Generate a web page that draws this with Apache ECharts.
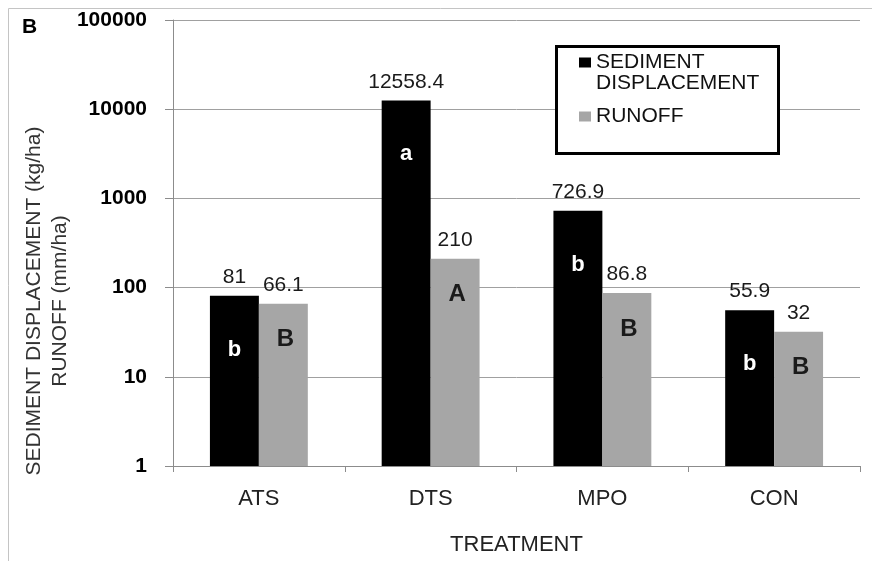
<!DOCTYPE html>
<html><head><meta charset="utf-8">
<script src="https://cdn.jsdelivr.net/npm/echarts@6/dist/echarts.min.js"></script>
<style>html,body{margin:0;padding:0;background:#fff}#c{width:872px;height:561px}</style>
</head><body><div id="c"></div>
<script>
const categories = ['ATS', 'DTS', 'MPO', 'CON'];
const seriesNames = ['SEDIMENT DISPLACEMENT', 'RUNOFF'];
const sedimentValues = [81, 12558.4, 726.9, 55.9];
const runoffValues = [66.1, 210, 86.8, 32];
const sedimentLetters = ['b', 'a', 'b', 'b'];
const runoffLetters = ['B', 'A', 'B', 'B'];
const yTicks = [1, 10, 100, 1000, 10000, 100000];
const panelLabel = 'B';
const xTitle = 'TREATMENT';
const yTitle = 'SEDIMENT DISPLACEMENT (kg/ha)\nRUNOFF (mm/ha)';

const FONT = '"Liberation Sans", Arial, sans-serif';
const chart = echarts.init(document.getElementById('c'), null, {renderer: 'canvas'});
const halfBar = 24.5;

const option = {
  animation: false,
  title: {text: panelLabel, left: 22, top: 17, padding: 0,
    textStyle: {fontFamily: FONT, fontSize: 21, fontWeight: 'bold', color: '#000'}},
  grid: {left: 173, right: 12, top: 20, bottom: 94},
  legend: {
    data: seriesNames, orient: 'vertical', left: 579, top: 31, padding: 0,
    itemWidth: 12, itemHeight: 10, itemGap: 12, icon: 'rect', z: 20,
    textStyle: {fontFamily: FONT, fontSize: 21, lineHeight: 21, color: '#111'},
    formatter: n => n === seriesNames[0] ? ' \nSEDIMENT\nDISPLACEMENT' : n
  },
  xAxis: {
    type: 'category', data: categories,
    name: xTitle, nameLocation: 'middle', nameGap: 68,
    nameTextStyle: {fontFamily: FONT, fontSize: 22, color: '#222'},
    axisLine: {lineStyle: {color: '#8c8c8c'}},
    axisTick: {show: true, length: 6, lineStyle: {color: '#8c8c8c'}},
    axisLabel: {fontFamily: FONT, fontSize: 22, color: '#222', margin: 22},
    splitLine: {show: false}
  },
  yAxis: {
    type: 'log', logBase: 10, min: yTicks[0], max: yTicks[yTicks.length - 1],
    axisLine: {show: true, lineStyle: {color: '#8c8c8c'}},
    axisTick: {show: true, length: 8, lineStyle: {color: '#8c8c8c'}},
    axisLabel: {fontFamily: FONT, fontSize: 21, fontWeight: 'bold', color: '#000', margin: 26,
      formatter: v => String(Math.round(v))},
    splitLine: {show: true, lineStyle: {color: '#a0a0a0', width: 1}}
  },
  graphic: [
    {type: 'rect', z: -10, silent: true, shape: {x: 8.5, y: 8.5, width: 900, height: 600},
      style: {fill: 'none', stroke: '#c4c4c4', lineWidth: 1}},
    {type: 'rect', z: 10, silent: true, shape: {x: 556.5, y: 46.5, width: 222, height: 107},
      style: {fill: '#fff', stroke: '#000', lineWidth: 3}},
    {type: 'text', z: 10, silent: true, x: 47, y: 301, rotation: Math.PI / 2,
      style: {text: yTitle, fontFamily: FONT, fontSize: 21, lineHeight: 26, fill: '#333',
        align: 'center', verticalAlign: 'middle'}}
  ],
  series: [
    {name: seriesNames[0], type: 'bar', data: sedimentValues, barGap: 0, barCategoryGap: '43%',
      itemStyle: {color: '#000'},
      label: {show: true, position: 'top', distance: 8, fontFamily: FONT, fontSize: 21, color: '#1a1a1a'}},
    {name: seriesNames[1], type: 'bar', data: runoffValues, barGap: 0, barCategoryGap: '43%',
      itemStyle: {color: '#a6a6a6'},
      label: {show: true, position: 'top', distance: 8, fontFamily: FONT, fontSize: 21, color: '#1a1a1a'}},
    {name: 'sedLetters', type: 'scatter', data: sedimentValues, symbol: 'circle', symbolSize: 2, z: 5,
      itemStyle: {color: 'rgba(0,0,0,0)'}, labelLayout: {hideOverlap: false},
      label: {show: true, position: [1 - halfBar, 1 + 54], align: 'center', verticalAlign: 'middle',
        formatter: p => sedimentLetters[p.dataIndex], opacity: 1,
        fontFamily: FONT, fontSize: 22, fontWeight: 'bold', color: '#ffffff'}},
    {name: 'runLetters', type: 'scatter', data: runoffValues, symbol: 'circle', symbolSize: 2, z: 5,
      itemStyle: {color: 'rgba(0,0,0,0)'}, labelLayout: {hideOverlap: false},
      label: {show: true, position: [3 + halfBar, 1 + 36], align: 'center', verticalAlign: 'middle',
        formatter: p => runoffLetters[p.dataIndex], opacity: 1,
        fontFamily: FONT, fontSize: 24, fontWeight: 'bold', color: '#1a1a1a'}}
  ]
};
chart.setOption(option);
</script></body></html>
